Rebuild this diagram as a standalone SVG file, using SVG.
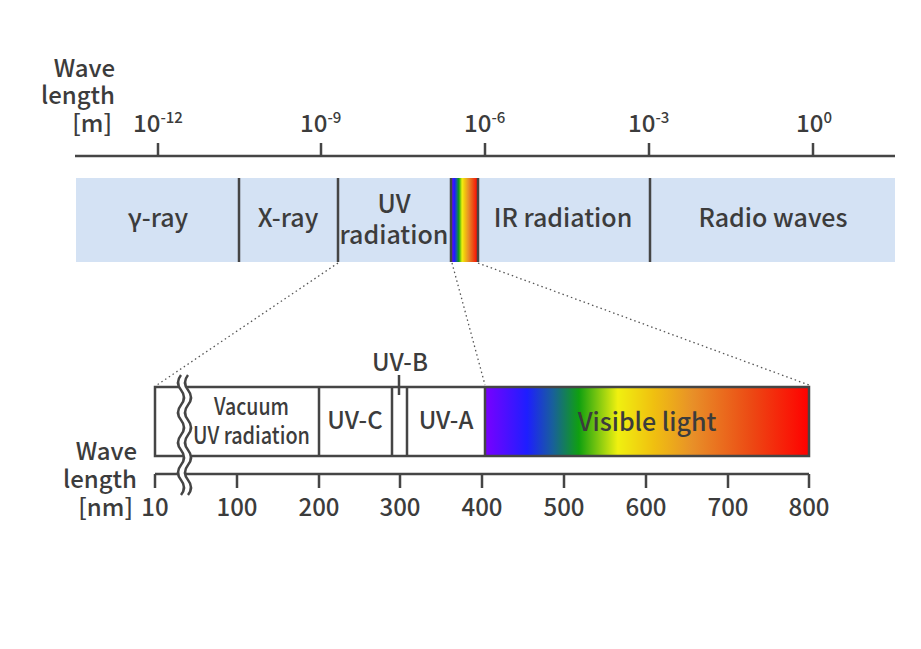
<svg xmlns="http://www.w3.org/2000/svg" width="921" height="649" viewBox="0 0 921 649">
<defs>
<linearGradient id="vis" x1="0" y1="0" x2="1" y2="0">
<stop offset="0" stop-color="#7a00ff"/>
<stop offset="0.13" stop-color="#1e1eff"/>
<stop offset="0.21" stop-color="#18609a"/>
<stop offset="0.29" stop-color="#10a010"/>
<stop offset="0.41" stop-color="#f0f010"/>
<stop offset="0.52" stop-color="#f0c010"/>
<stop offset="0.64" stop-color="#e89028"/>
<stop offset="0.82" stop-color="#ec4a14"/>
<stop offset="1" stop-color="#ff0000"/>
</linearGradient>
<style>
.t{font-family:"Noto Sans CJK JP","Noto Sans",sans-serif;font-weight:500;fill:#3c3c3c}
.ln{stroke:#454545;stroke-width:2.5;fill:none}
.dot{stroke:#555;stroke-width:1.3;stroke-dasharray:1.5 3;fill:none}
</style>
</defs>
<rect width="921" height="649" fill="#fff"/>

<g id="top-axis">
<text class="t" font-size="24" text-anchor="end" x="115" y="77">Wave</text>
<text class="t" font-size="24" text-anchor="end" x="115" y="104">length</text>
<text class="t" font-size="24" text-anchor="end" x="112" y="132">[m]</text>
<line class="ln" x1="75" y1="156" x2="895" y2="156" stroke-width="3"/>
<path class="ln" d="M158,143V156M321,143V156M485,143V156M649,143V156M813,143V156"/>
<text class="t" font-size="24" y="132"><tspan x="133">10</tspan><tspan font-size="15" dy="-9">-12</tspan></text>
<text class="t" font-size="24" y="132"><tspan x="300">10</tspan><tspan font-size="15" dy="-9">-9</tspan></text>
<text class="t" font-size="24" y="132"><tspan x="464">10</tspan><tspan font-size="15" dy="-9">-6</tspan></text>
<text class="t" font-size="24" y="132"><tspan x="628">10</tspan><tspan font-size="15" dy="-9">-3</tspan></text>
<text class="t" font-size="24" y="132"><tspan x="796">10</tspan><tspan font-size="15" dy="-9">0</tspan></text>
</g>

<g id="spectrum-band">
<rect x="76" y="178" width="819" height="84" fill="#d4e2f4"/>
<rect x="451" y="178" width="27" height="84" fill="url(#vis)"/>
<path class="ln" d="M239,178V262M338,178V262M451,178V262M478,178V262M650,178V262"/>
</g>
<g id="gamma"><text class="t" font-size="25" x="158" y="227" text-anchor="middle">γ-ray</text></g>
<g id="xray"><text class="t" font-size="25" x="288" y="227" text-anchor="middle">X-ray</text></g>
<g id="uv"><text class="t" font-size="25" x="394" y="213" text-anchor="middle">UV</text><text class="t" font-size="25" x="394" y="244" text-anchor="middle">radiation</text></g>
<g id="ir"><text class="t" font-size="25" x="563" y="227" text-anchor="middle">IR radiation</text></g>
<g id="radio"><text class="t" font-size="25" x="773" y="227" text-anchor="middle">Radio waves</text></g>

<g id="connectors">
<line class="dot" x1="338" y1="263" x2="157" y2="385"/>
<line class="dot" x1="452" y1="263" x2="485" y2="385"/>
<line class="dot" x1="478" y1="263" x2="809" y2="385"/>
</g>

<g id="detail-band">
<rect x="485" y="387" width="324" height="69" fill="url(#vis)"/>
<rect class="ln" x="155" y="387" width="654" height="69" stroke-width="3"/>
<path class="ln" d="M319,387V456M392,387V456M407,387V456M485,387V456"/>
<line class="ln" x1="399" y1="375" x2="399" y2="395" stroke-width="1.5"/>
</g>
<g id="vacuum"><text class="t" font-size="23.5" x="214" y="415" textLength="75" lengthAdjust="spacingAndGlyphs">Vacuum</text><text class="t" font-size="23.5" x="193" y="444" textLength="117" lengthAdjust="spacingAndGlyphs">UV radiation</text></g>
<g id="uvc"><text class="t" font-size="24" x="355" y="429" text-anchor="middle">UV-C</text></g>
<g id="uvb"><text class="t" font-size="24" x="400" y="371" text-anchor="middle">UV-B</text></g>
<g id="uva"><text class="t" font-size="24" x="446" y="429" text-anchor="middle">UV-A</text></g>
<g id="visible"><text class="t" font-size="25" x="647" y="431" text-anchor="middle">Visible light</text></g>

<g id="bottom-axis">
<line class="ln" x1="155" y1="474" x2="809" y2="474" stroke-width="3"/>
<path class="ln" d="M155,474V488M237,474V488M319,474V488M400,474V488M482,474V488M564,474V488M646,474V488M728,474V488M809,474V488"/>
<text class="t" font-size="24" text-anchor="end" x="137" y="460">Wave</text>
<text class="t" font-size="24" text-anchor="end" x="137" y="488">length</text>
<text class="t" font-size="24" text-anchor="end" x="133" y="516">[nm]</text>
<text class="t" font-size="24" y="516" text-anchor="middle"><tspan x="155">10</tspan><tspan x="237">100</tspan><tspan x="319">200</tspan><tspan x="400">300</tspan><tspan x="482">400</tspan><tspan x="564">500</tspan><tspan x="646">600</tspan><tspan x="728">700</tspan><tspan x="809">800</tspan></text>
</g>

<g id="break">
<path d="M184.5,375q-6,7.5 0,15t0,15t0,15t0,15t0,15t0,15t0,15t0,15" stroke="#fff" stroke-width="7" fill="none"/>
<path class="ln" d="M181,375q-6,7.5 0,15t0,15t0,15t0,15t0,15t0,15t0,15t0,15M188,375q-6,7.5 0,15t0,15t0,15t0,15t0,15t0,15t0,15t0,15" stroke-width="2"/>
</g>
</svg>
